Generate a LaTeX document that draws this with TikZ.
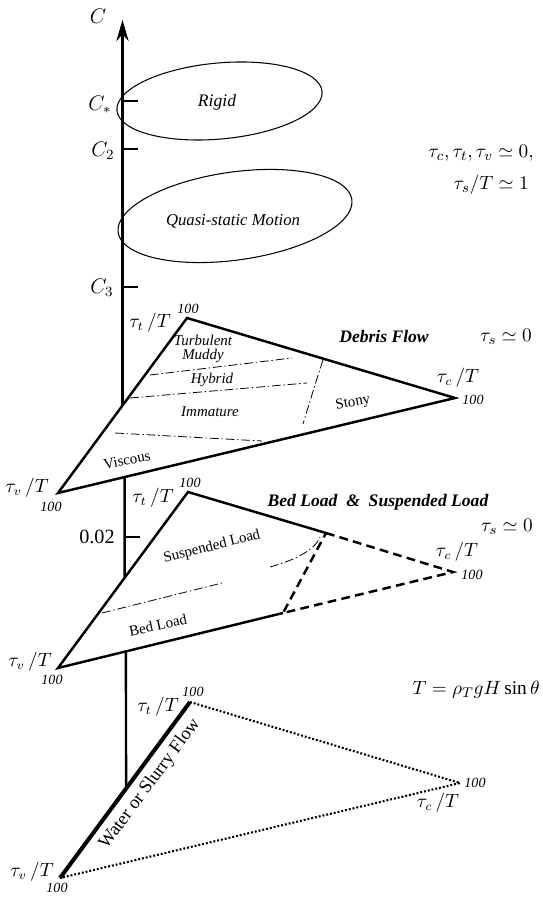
\documentclass[tikz,border=0pt]{standalone}
\usepackage{amsmath,amssymb}
\usepackage{fontspec}
\setmainfont{Liberation Serif}
\usetikzlibrary{calc,arrows.meta}
\usetikzlibrary{positioning, quotes}

\begin{document}
\begin{tikzpicture}[
    x=0.02cm, y=-0.02cm,
    rim/.style={line width=1.4pt, line join=miter},
    rim dashed/.style={rim, dash pattern=on 5pt off 3pt},
    rim dotted/.style={line width=1.2pt, dash pattern=on 1.1pt off 1.1pt},
    zone/.style={line width=0.45pt, dash pattern=on 5pt off 1.6pt on 0.8pt off 1.6pt},
    blob/.style={line width=0.6pt},
    caxis/.style={line width=1.4pt},
    cticks/.style={line width=1.5pt},
    mathlab/.style={font=\fontsize{10.5}{12}\selectfont, inner sep=0pt},
    hundred/.style={font=\fontsize{8}{9}\itshape\selectfont, inner sep=0pt},
    zonelab/.style={font=\fontsize{8.5}{9}\selectfont, inner sep=0pt},
    zoneit/.style={font=\fontsize{8.5}{8}\itshape\selectfont, inner sep=0pt},
    regime/.style={font=\fontsize{10}{12}\bfseries\itshape\selectfont, inner sep=0pt},
    note/.style={font=\fontsize{11}{13}\selectfont, inner sep=0pt, anchor=east}
]

% FIXED BOUNDING BOX
\path[use as bounding box] (0,0) rectangle (542,901);

% triangle corners
\coordinate (dT) at (187,318);
\coordinate (dC) at (455,398);
\coordinate (dV) at (58,493);
\coordinate (bT) at (188,492);
\coordinate (bJ) at (326,533);
\coordinate (bC) at (453,572);
\coordinate (bK) at (283,613);
\coordinate (bV) at (58,668);
\coordinate (wT) at (190,702);
\coordinate (wC) at (460,783);
\coordinate (wV) at (60,878);

% C axis, hidden behind the planes
\coordinate (ctop) at (122.5,20);
\coordinate (a1) at ($(dV)!.5!(dT)$);
\coordinate (a2) at ($(dV)!.168!(dC)$);
\coordinate (a3) at ($(bV)!.513!(bT)$);
\coordinate (a4) at ($(bV)!.302!(bK)$);
\coordinate (a5) at ($(wV)!.508!(wT)$);
\draw[caxis, -{Stealth[length=12pt,width=7pt]}] (a1) -- (ctop);
\draw[caxis] (a2) -- (a3);
\draw[caxis] (a4) -- (a5);

\foreach \h/\n in {101/cs, 149/ctwo, 287/cthree} {
    \coordinate (tick-\n) at (122.5,\h);
    \draw[cticks] (tick-\n) -- ++(15,0);
}
\coordinate (tick-low) at (124.7,537);
\draw[cticks] (tick-low) -- ++(15,0);

\node[mathlab, font=\fontsize{11.5}{12}\selectfont] (clab) at (98,16) {$C$};
\node[mathlab, font=\fontsize{11.5}{12}\selectfont] (cslab) at (100,105) {$C_*$};
\node[mathlab, font=\fontsize{11.5}{12}\selectfont] (ctwolab) at (103,151) {$C_2$};
\node[mathlab, font=\fontsize{11.5}{12}\selectfont] (cthreelab) at (102,288) {$C_3$};
\node[note, font=\fontsize{11.5}{13}\selectfont, anchor=center] (lowlab) at (97,537) {0.02};

% rigid and quasi-static regions
\draw[blob, rotate around={5.3:(219.5,101)}] (219.5,101) ellipse (103 and 38);
\draw[blob, rotate around={8:(235,216)}] (235,216) ellipse (118 and 44);
\node[font=\fontsize{10}{12}\itshape\selectfont] (rigid) at (217,102) {Rigid};
\node[font=\fontsize{9.5}{12}\itshape\selectfont] (quasi) at (233,221) {Quasi-static Motion};

\node[note] (zeroall) at (534,153) {$\tau_c,\tau_t,\tau_v\simeq 0,$};
\node[note] (unity) at (529,185) {$\tau_s/T\simeq 1$};

% debris flow plane
\draw[zone] (150,375) -- (292,358);
\draw[zone] (130,398) -- (307,383);
\draw[zone] (115,433) -- (262,441);
\draw[zone] (323,360) .. controls (314,388) .. (303,424);
\draw[rim] (dT) -- (dC) -- (dV) -- cycle;

\node[regime] (debris) at (384,337) {Debris Flow};
\node[note] (dsz) at (532,337) {$\tau_s\simeq 0$};
\node[hundred] (dt100) at (188,309) {100};
\node[mathlab] (dtlab) at (150,323) {$\tau_t\,/T$};
\node[mathlab] (dclab) at (458,378) {$\tau_c\,/T$};
\node[hundred] (dc100) at (473,400) {100};
\node[mathlab] (dvlab) at (27,488) {$\tau_v\,/T$};
\node[hundred] (dv100) at (51,507) {100};

\node[zoneit, align=center] (turb) at (203,349) {Turbulent\\Muddy};
\node[zoneit] (hybrid) at (212,380) {Hybrid};
\node[zoneit] (immature) at (210,412) {Immature};
\node[zonelab, rotate=11] (viscous) at (127,460) {Viscous};
\node[zonelab, rotate=10] (stony) at (353,403) {Stony};

% bed load plane
\draw[zone] (270,567) .. controls (295,560) and (315,550) .. (320,537);
\draw[zone] (102,613) -- (222,583);
\draw[rim] (bK) -- (bV) -- (bT) -- (bJ);
\draw[rim dashed] (bJ) -- (bC) -- (bK) -- cycle;

\node[regime] (bedtitle) at (378,502) {Bed Load\enspace\&\enspace Suspended Load};
\node[note] (bsz) at (533,527) {$\tau_s\simeq 0$};
\node[hundred] (bt100) at (190,483) {100};
\node[mathlab] (btlab) at (153,498) {$\tau_t\,/T$};
\node[mathlab] (bclab) at (457,552) {$\tau_c\,/T$};
\node[hundred] (bc100) at (472,575) {100};
\node[mathlab] (bvlab) at (30,662) {$\tau_v\,/T$};
\node[hundred] (bv100) at (52,680) {100};
\node[zonelab, rotate=14] (susp) at (212,547) {Suspended Load};
\node[zonelab, rotate=12] (bedl) at (158,625) {Bed Load};

% water or slurry flow plane
\draw[rim dotted] (wT) -- (wC) -- (wV);
\draw[line width=2.3pt] (wV) -- (wT);

\node[hundred] (wt100) at (193,692) {100};
\node[mathlab] (wtlab) at (158,707) {$\tau_t\,/T$};
\node[hundred] (wc100) at (475,783) {100};
\node[mathlab] (wclab) at (438,803) {$\tau_c\,/T$};
\node[mathlab] (wvlab) at (32,872) {$\tau_v\,/T$};
\node[hundred] (wv100) at (57,888) {100};
\node[font=\fontsize{10.5}{12}\selectfont, rotate=53.5] (water) at (150,784) {Water or Slurry Flow};

\node[note] (tdef) at (540,690) {$T=\rho_T g H\sin\theta$};

\end{tikzpicture}
\end{document}
